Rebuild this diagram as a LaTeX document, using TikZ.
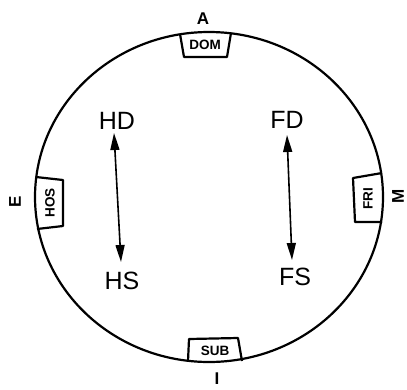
\documentclass[tikz,border=0pt]{standalone}
\usepackage{fontspec}
\setmainfont{Liberation Sans}
\usetikzlibrary{arrows.meta}
\begin{document}
\begin{tikzpicture}[x=1pt,y=-1pt,
  lbl/.style={font=\fontsize{25}{25}\selectfont},
  boxtxt/.style={font=\fontsize{13.5}{13.5}\selectfont\bfseries},
  dirlbl/.style={font=\fontsize{17}{17}\selectfont\bfseries},
  boxline/.style={line width=2.2pt, line join=round},
  dbl/.style={line width=1.6pt, {Triangle[length=17pt,width=9pt]}-{Triangle[length=17pt,width=9pt]}}]
\useasboundingbox (0,0) rectangle (407,389);
\draw[line width=2.2pt] (209,197) ellipse [x radius=174, y radius=165];
% boxes
\draw[boxline] (180,34) -- (184,57) -- (227,57) -- (231,33);
\node[boxtxt] (dom) at (205,45) {DOM};
\draw[boxline] (36,177) -- (63,180) -- (63,226) -- (37,229);
\node[boxtxt, rotate=90] (hos) at (50,203) {HOS};
\draw[boxline] (382,173) -- (353,178) -- (355,222) -- (382,222);
\node[boxtxt, rotate=90] (fri) at (368,199) {FRI};
\draw[boxline] (188,361) -- (189,339) -- (238,338) -- (242,361);
\node[boxtxt] (sub) at (215,351) {SUB};
% direction labels
\node[dirlbl] (a) at (203,19) {A};
\node[dirlbl, rotate=90] (e) at (15,202) {E};
\node[dirlbl, rotate=90] (m) at (398,196) {M};
\node[dirlbl, inner sep=0pt] (i) at (217,379) {I};
% inner labels
\node[lbl] (hd) at (117,121) {HD};
\node[lbl] (hs) at (122,281) {HS};
\node[lbl] (fd) at (287,120) {FD};
\node[lbl] (fs) at (295,277) {FS};
\coordinate (h1) at (114,133);
\coordinate (h2) at (121,262);
\coordinate (f1) at (287,135);
\coordinate (f2) at (292,260);
\draw[dbl] (h1) -- (h2);
\draw[dbl] (f1) -- (f2);
\end{tikzpicture}
\end{document}
